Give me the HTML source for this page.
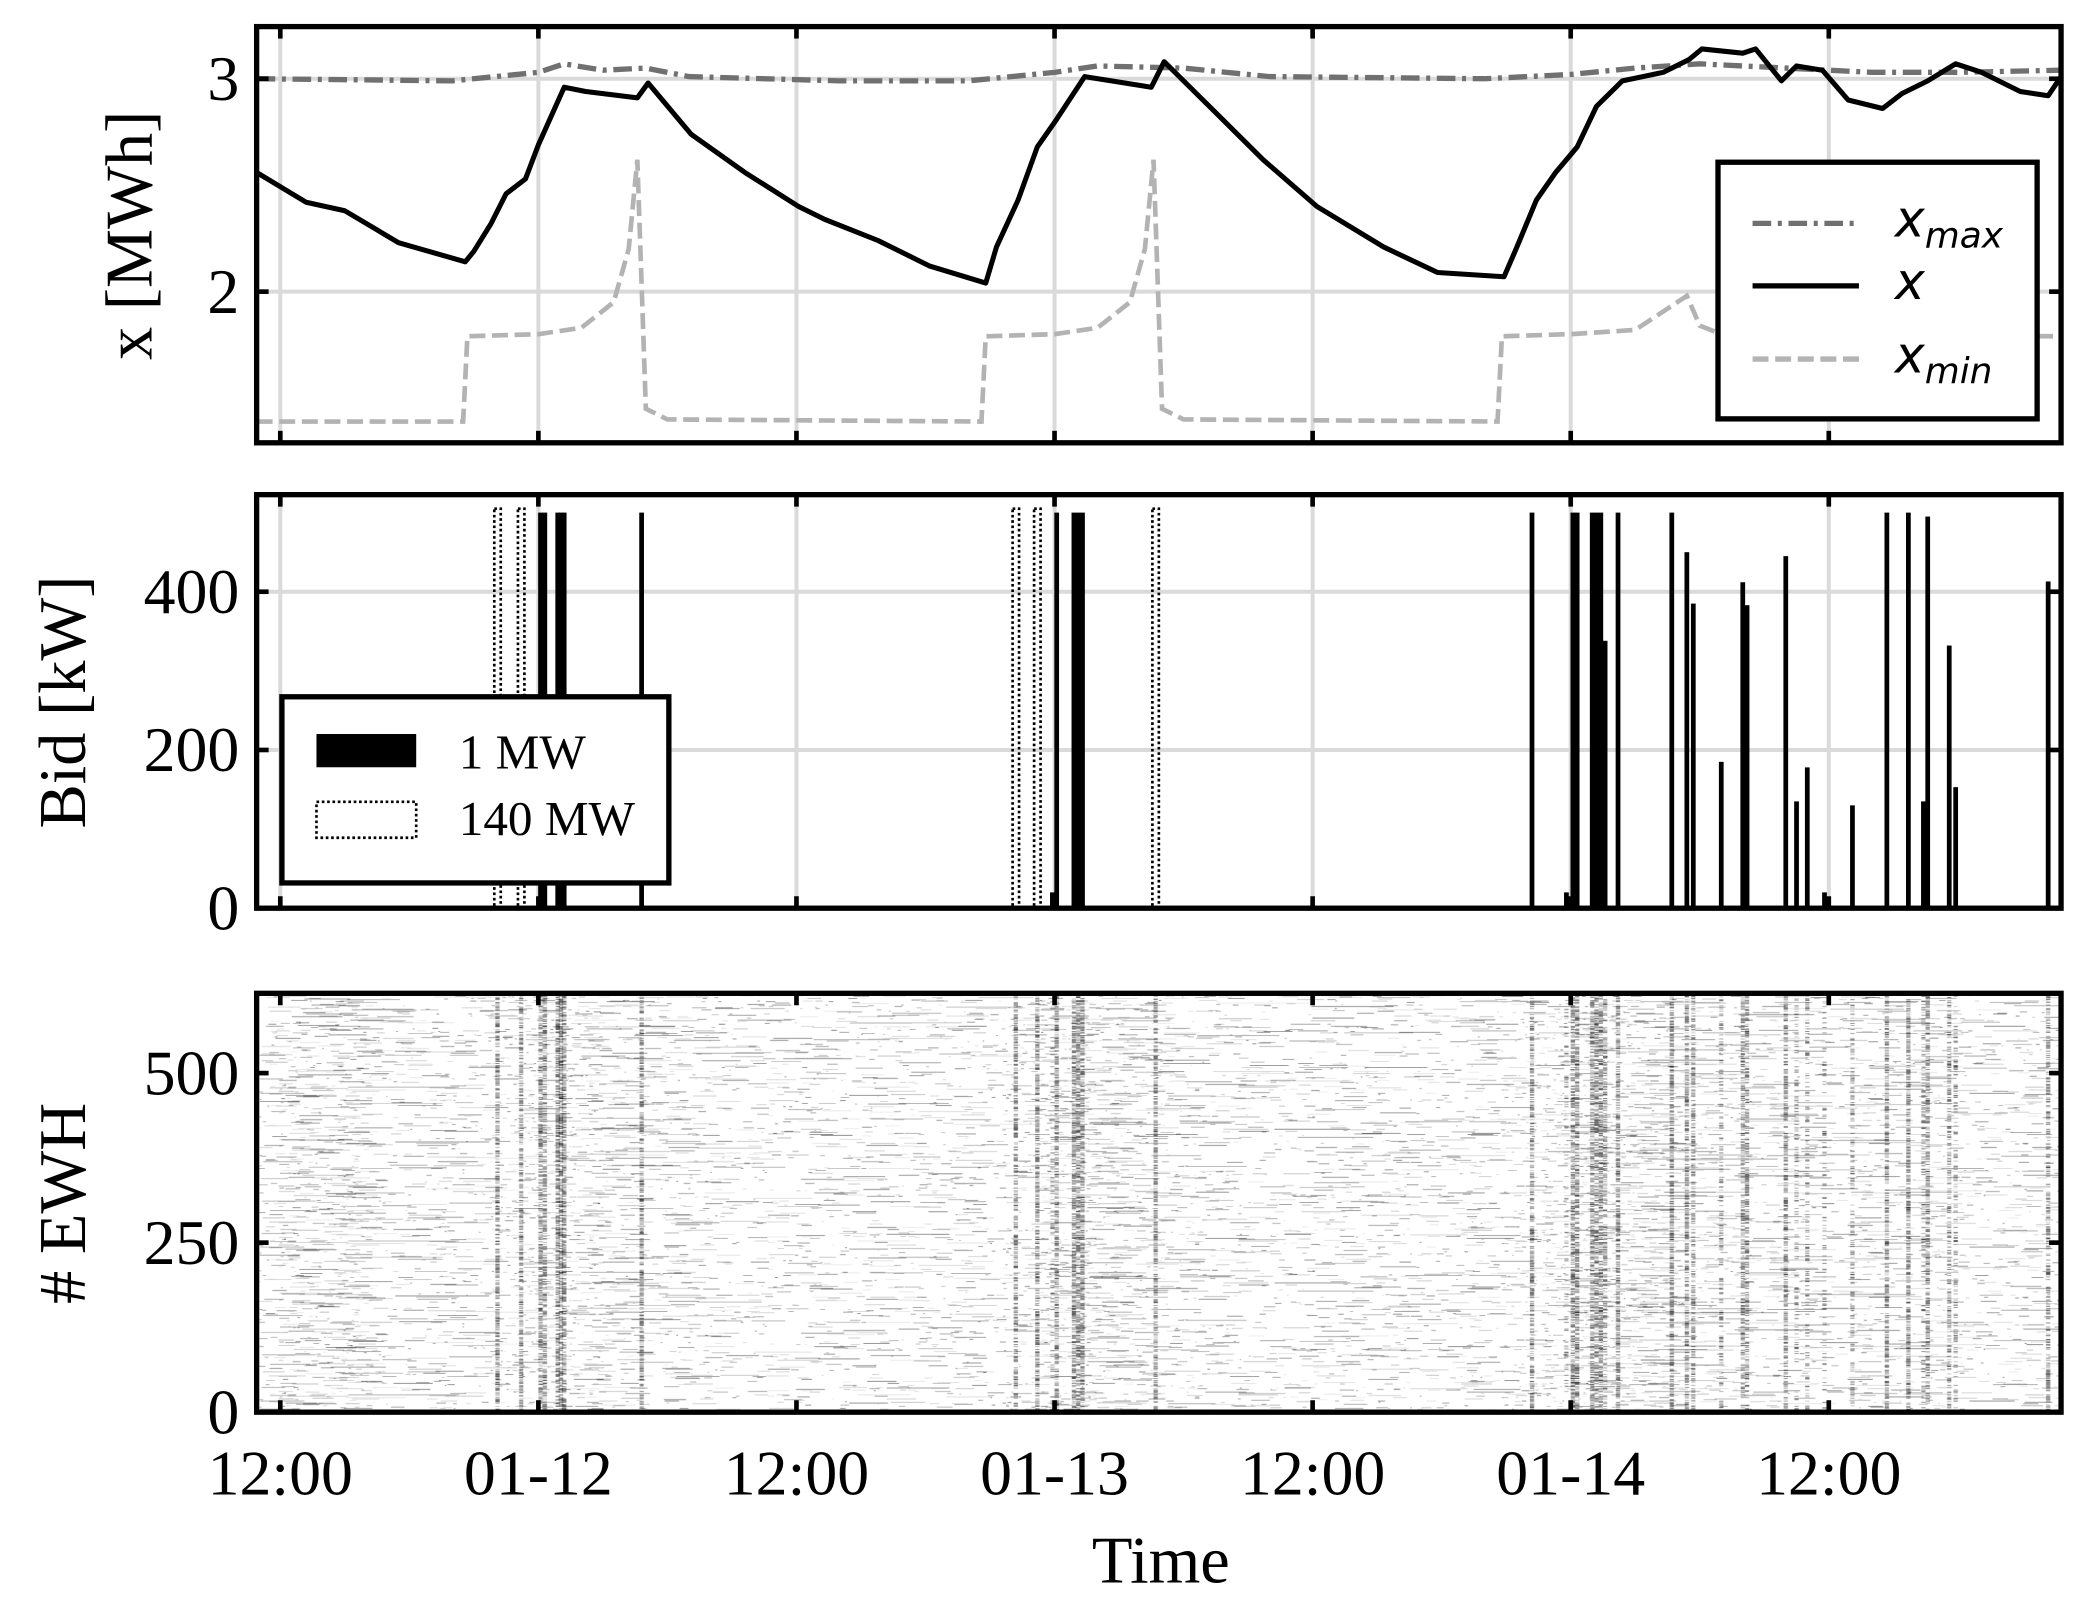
<!DOCTYPE html>
<html><head><meta charset="utf-8">
<style>
html,body{margin:0;padding:0;background:#fff;}
body{width:2085px;height:1605px;overflow:hidden;position:relative;}
#root{position:absolute;left:0;top:0;width:1568px;height:1207px;transform-origin:0 0;transform:scale(1.32972,1.32974);}
#heat{position:absolute;left:193px;top:747px;width:1357px;height:315px;}
#svg{position:absolute;left:0;top:0;}
text{font-family:"Liberation Serif",serif;}
</style></head>
<body>
<div id="root">
<canvas id="heat" width="2714" height="630"></canvas>
<svg id="svg" width="1568" height="1207" xmlns="http://www.w3.org/2000/svg"></svg>
</div>
<script>
// ---- data ----
const xTimes=[-1.1,1.2,3.0,5.5,8.6,9.0,9.8,10.5,11.4,12.0,13.2,14.2,16.6,17.1,19.1,21.6,24.1,25.3,27.8,30.2,32.8,33.3,34.3,35.2,36.1,37.4,40.5,41.1,43.2,45.7,48.2,51.3,53.8,56.9,57.5,58.4,59.3,60.3,61.2,62.4,64.3,65.5,66.1,68.0,68.6,69.8,70.5,71.7,72.9,74.5,75.4,76.6,77.9,79.1,80.9,82.2,82.8];
const xValues=[2.56,2.42,2.38,2.23,2.14,2.19,2.32,2.46,2.53,2.69,2.96,2.94,2.91,2.98,2.74,2.56,2.40,2.34,2.24,2.12,2.04,2.21,2.43,2.68,2.81,3.01,2.96,3.08,2.87,2.62,2.40,2.21,2.09,2.07,2.21,2.43,2.56,2.68,2.87,2.99,3.03,3.09,3.14,3.12,3.14,2.99,3.06,3.04,2.90,2.86,2.93,2.99,3.07,3.03,2.94,2.92,3.01];
const xmaxTimes=[-1.1,8,12,13.2,15,17,19,26,32,36,38,42,46,56,60,63,66,70,74,78,82.8];
const xmaxValues=[3.0,2.99,3.03,3.07,3.04,3.05,3.01,2.99,2.99,3.03,3.06,3.05,3.01,3.0,3.02,3.05,3.07,3.05,3.03,3.03,3.04];
const xminTimes=[-1.1,8.5,8.7,12,14,15.5,16.2,16.6,17.0,18,32.6,32.8,36,38,39.5,40.2,40.6,41.0,42,56.6,56.8,60,63,64.5,65.4,66,67,82.8];
const xminValues=[1.39,1.39,1.79,1.80,1.83,1.95,2.2,2.62,1.45,1.40,1.39,1.79,1.80,1.83,1.95,2.2,2.62,1.45,1.40,1.39,1.79,1.80,1.82,1.92,1.98,1.84,1.80,1.79];
const bid1Times=[12.1,12.3,12.9,13.05,13.2,16.8,35.9,36.1,36.9,37.1,37.3,58.2,59.8,60.1,60.3,61.0,61.2,61.4,61.6,62.2,64.7,65.4,65.7,67.0,68.0,68.2,70.0,70.5,71.0,71.8,73.1,74.7,75.7,76.4,76.6,77.6,77.9,82.2];
const bid1Values=[500,500,500,500,500,500,20,500,500,500,500,500,20,500,500,500,500,500,338,500,500,450,385,185,412,383,445,135,178,20,130,500,500,135,495,332,153,413];
const bid140Times=[10.1,11.2,34.2,35.2,40.7];
const bid140Values=[505,505,505,505,505];
const xTickLabels=["12:00","01-12","12:00","01-13","12:00","01-14","12:00"];
const xTickHours=[0,12,24,36,48,60,72];
const p1Ticks=[2,3], p2Ticks=[0,200,400], p3Ticks=[0,250,500];

// ---- layout ----
const L=193,R=1550,T0=-1.1,T1=82.8;
const P1={top:20,bot:333,min:1.29,max:3.245};
const P2={top:372,bot:683,min:0,max:(683-372)/0.595};
const P3={top:747,bot:1062,min:0,max:315/0.51};
const sx=t=>L+(t-T0)/(T1-T0)*(R-L);
const sy=(P,v)=>P.bot-(v-P.min)/(P.max-P.min)*(P.bot-P.top);
const NS="http://www.w3.org/2000/svg";
const svg=document.getElementById('svg');
function mk(tag,attrs,parent){const e=document.createElementNS(NS,tag);for(const k in attrs)e.setAttribute(k,attrs[k]);(parent||svg).appendChild(e);return e;}

function panel(P,ticks,name,isHeat){
  const g=mk('g',{});
  
  
  if(!isHeat){
    xTickHours.forEach(h=>{const l=mk('line',{x1:sx(h),x2:sx(h),y1:P.top,y2:P.bot,stroke:'#dadada','stroke-width':3},g);});
    ticks.forEach(v=>{const l=mk('line',{x1:L,x2:R,y1:sy(P,v),y2:sy(P,v),stroke:'#dadada','stroke-width':3},g);});
  }
  return g;
}
function frame(P,ticks,name){
  const g=mk('g',{});
  
  
  xTickHours.forEach(h=>{
    mk('line',{x1:sx(h),x2:sx(h),y1:P.bot,y2:P.bot-9,stroke:'#000','stroke-width':3.5},g);
    mk('line',{x1:sx(h),x2:sx(h),y1:P.top,y2:P.top+9,stroke:'#000','stroke-width':3.5},g);
  });
  ticks.forEach(v=>{
    mk('line',{x1:L,x2:L+9,y1:sy(P,v),y2:sy(P,v),stroke:'#000','stroke-width':3.5},g);
    mk('line',{x1:R,x2:R-9,y1:sy(P,v),y2:sy(P,v),stroke:'#000','stroke-width':3.5},g);
    const t=mk('text',{x:180,y:sy(P,v)+16,'font-size':48,'text-anchor':'end'},g);
    t.textContent=v;
    
    
  });
  const r=mk('rect',{x:L,y:P.top,width:R-L,height:P.bot-P.top,fill:'none',stroke:'#000','stroke-width':4},g);
  
  
}
function path(P,ts,vs,attrs,name){
  let d='';ts.forEach((t,i)=>{d+=(i?'L':'M')+sx(t).toFixed(1)+','+sy(P,vs[i]).toFixed(1);});
  const p=mk('path',Object.assign({d:d,fill:'none'},attrs));
  
  
}

// Panel 1
panel(P1,p1Ticks,'state-panel');
path(P1,xminTimes,xminValues,{stroke:'#b3b3b3','stroke-width':3.5,'stroke-dasharray':'12,5'},'xmin-line');
path(P1,xmaxTimes,xmaxValues,{stroke:'#707070','stroke-width':4,'stroke-dasharray':'14,5,3,5'},'xmax-line');
path(P1,xTimes,xValues,{stroke:'#000','stroke-width':3.8,'stroke-linejoin':'round'},'x-line');
frame(P1,p1Ticks,'state-panel');
// legend 1
(function(){
  const g=mk('g',{});
  mk('rect',{x:1292,y:122,width:240,height:193,fill:'#fff',stroke:'#000','stroke-width':4},g);
  const items=[['#707070','14,5,3,5',168,'max'],['#000','',215,''],['#b3b3b3','12,5',270,'min']];
  items.forEach(it=>{
    const l=mk('line',{x1:1318,x2:1398,y1:it[2],y2:it[2],stroke:it[0],'stroke-width':4,'stroke-dasharray':it[1]||'none'},g);
    
    const t=mk('text',{x:1425,y:it[2]+10,'font-size':38,'font-style':'italic',style:'font-family:"DejaVu Sans",sans-serif'},g);
    t.textContent='x';
    if(it[3]){const s=mk('tspan',{'font-size':27,dy:8},t);s.textContent=it[3];}
    
  });
})();

// Panel 2
panel(P2,p2Ticks,'bid-panel');
bid1Times.forEach((t,i)=>{
  const w=sx(0.22)-sx(0);
  const r=mk('rect',{x:sx(t)-w/2,y:sy(P2,bid1Values[i]),width:w,height:P2.bot-sy(P2,bid1Values[i]),fill:'#000'});
  
});
bid140Times.forEach((t,i)=>{
  const w=sx(0.3)-sx(0);
  const r=mk('rect',{x:sx(t)-w/2,y:sy(P2,bid140Values[i]),width:w,height:P2.bot-sy(P2,bid140Values[i]),fill:'none',stroke:'#000','stroke-width':2,'stroke-dasharray':'2,2'});
  
});
frame(P2,p2Ticks,'bid-panel');
(function(){
  const g=mk('g',{});
  mk('rect',{x:212,y:524,width:291,height:140,fill:'#fff',stroke:'#000','stroke-width':4},g);
  mk('rect',{x:238,y:552,width:75,height:25,fill:'#000'},g);
  mk('rect',{x:238,y:603,width:75,height:27,fill:'none',stroke:'#000','stroke-width':2,'stroke-dasharray':'2,2'},g);
  const a=mk('text',{x:345,y:578,'font-size':37},g);a.textContent='1 MW';
  
  const b=mk('text',{x:345,y:628,'font-size':37},g);b.textContent='140 MW';
  
})();

// Panel 3 frame
frame(P3,p3Ticks,'ewh-panel');

// x tick labels & axis titles
xTickHours.forEach((h,i)=>{
  const t=mk('text',{x:sx(h),y:1124,'font-size':48,'text-anchor':'middle'});
  t.textContent=xTickLabels[i];
  
});
function title(txt,x,y,rot,name){
  const t=mk('text',{x:x,y:y,'font-size':50,'text-anchor':'middle',transform:rot?`rotate(-90 ${x} ${y})`:''});
  t.textContent=txt;
}
title('Time',873,1190,false,'x-axis-title');
title('x [MWh]',114,177,true,'state-y-axis-title');
title('Bid [kW]',64,528,true,'bid-y-axis-title');
title('# EWH',64,905,true,'ewh-y-axis-title');

// ---- heatmap texture ----
const activeWindows=[[8.6,13.5],[32.7,37.5],[56.7,62.5]];
(function(){
  const c=document.getElementById('heat'),ctx=c.getContext('2d');
  const W=c.width,H=c.height,rows=618,rh=H/rows;
  const tx=t=>(t-T0)/(T1-T0)*W;
  let s=12345;const rnd=()=>{s=(s*1103515245+12345)&0x7fffffff;return s/0x7fffffff;};
  ctx.fillStyle='#fff';ctx.fillRect(0,0,W,H);
  for(let r=0;r<rows;r++){
    let t=T0+rnd()*5;
    while(t<T1){
      let inAct=activeWindows.some(w=>t>w[0]&&t<w[1]);
      const len=-Math.log(rnd()+1e-6)*(inAct?0.3:0.6)+0.06;
      const a=0.12+rnd()*0.6;
      ctx.fillStyle=`rgba(0,0,0,${a})`;
      ctx.fillRect(tx(t),r*rh,Math.max(2,tx(t+len)-tx(t)),rh*0.85);
      t+=len-Math.log(rnd()+1e-6)*(inAct?1.4:6.5);
    }
  }
  const allBids=bid1Times.concat(bid140Times);
  const allVals=bid1Values.concat(bid140Values);
  allBids.forEach((bt,i)=>{
    const p=0.12+0.4*allVals[i]/505;
    for(let r=0;r<rows;r++){
      if(rnd()<p){ctx.fillStyle=`rgba(0,0,0,${0.3+rnd()*0.5})`;ctx.fillRect(tx(bt-0.1),r*rh,Math.max(3,tx(0.2)-tx(0)),rh*0.9);}
    }
  });
})();
</script>
</body></html>
